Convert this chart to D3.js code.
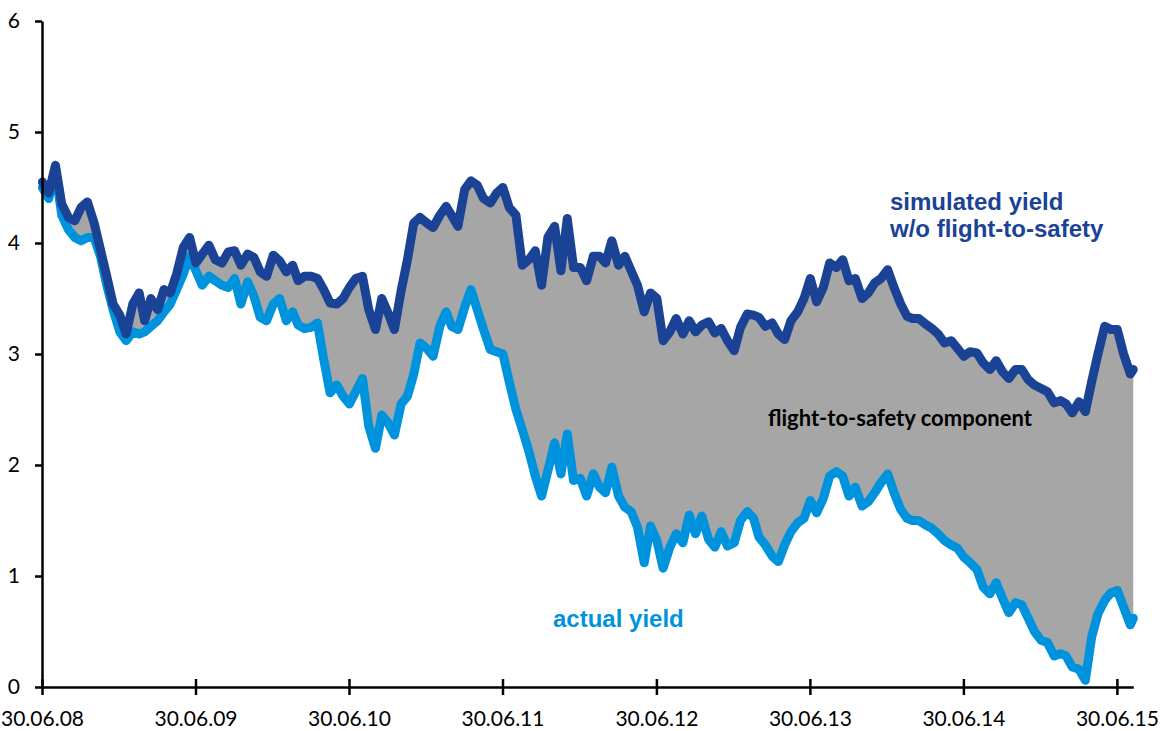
<!DOCTYPE html>
<html>
<head>
<meta charset="utf-8">
<script src="https://cdn.jsdelivr.net/npm/d3@7"></script>
<style>
  body { margin: 0; background: #fff; }
  svg text { font-family: Lato, "Open Sans", sans-serif; }
</style>
</head>
<body>
<script>
// half-monthly observations, dd.mm.yy
const dates = [
  "01.07.08","16.07.08","01.08.08","16.08.08","01.09.08","16.09.08","01.10.08","16.10.08","01.11.08","16.11.08","01.12.08","16.12.08",
  "01.01.09","16.01.09","01.02.09","16.02.09","01.03.09","16.03.09","01.04.09","16.04.09","01.05.09","16.05.09","01.06.09","16.06.09",
  "01.07.09","16.07.09","01.08.09","16.08.09","01.09.09","16.09.09","01.10.09","16.10.09","01.11.09","16.11.09","01.12.09","16.12.09",
  "01.01.10","16.01.10","01.02.10","16.02.10","01.03.10","16.03.10","01.04.10","16.04.10","01.05.10","16.05.10","01.06.10","16.06.10",
  "01.07.10","16.07.10","01.08.10","16.08.10","01.09.10","16.09.10","01.10.10","16.10.10","01.11.10","16.11.10","01.12.10","16.12.10",
  "01.01.11","16.01.11","01.02.11","16.02.11","01.03.11","16.03.11","01.04.11","16.04.11","01.05.11","16.05.11","01.06.11","16.06.11",
  "01.07.11","16.07.11","01.08.11","16.08.11","01.09.11","16.09.11","01.10.11","16.10.11","01.11.11","16.11.11","01.12.11","16.12.11",
  "01.01.12","16.01.12","01.02.12","16.02.12","01.03.12","16.03.12","01.04.12","16.04.12","01.05.12","16.05.12","01.06.12","16.06.12",
  "01.07.12","16.07.12","01.08.12","16.08.12","01.09.12","16.09.12","01.10.12","16.10.12","01.11.12","16.11.12","01.12.12","16.12.12",
  "01.01.13","16.01.13","01.02.13","16.02.13","01.03.13","16.03.13","01.04.13","16.04.13","01.05.13","16.05.13","01.06.13","16.06.13",
  "01.07.13","16.07.13","01.08.13","16.08.13","01.09.13","16.09.13","01.10.13","16.10.13","01.11.13","16.11.13","01.12.13","16.12.13",
  "01.01.14","16.01.14","01.02.14","16.02.14","01.03.14","16.03.14","01.04.14","16.04.14","01.05.14","16.05.14","01.06.14","16.06.14",
  "01.07.14","16.07.14","01.08.14","16.08.14","01.09.14","16.09.14","01.10.14","16.10.14","01.11.14","16.11.14","01.12.14","16.12.14",
  "01.01.15","16.01.15","01.02.15","16.02.15","01.03.15","16.03.15","01.04.15","16.04.15","01.05.15","16.05.15","01.06.15","16.06.15",
  "01.07.15","16.07.15","01.08.15","08.08.15"
];

// simulated yield without flight-to-safety (%)
const simulated = [
  4.55,4.45,4.70,4.35,4.23,4.20,4.32,4.37,4.18,3.94,3.70,3.45,3.35,3.18,3.45,3.55,3.30,3.50,3.40,3.58,3.55,3.72,3.96,4.05,
  3.82,3.90,3.98,3.85,3.82,3.92,3.93,3.80,3.90,3.87,3.74,3.70,3.89,3.84,3.74,3.80,3.66,3.70,3.70,3.68,3.58,3.46,3.45,3.50,
  3.60,3.68,3.70,3.40,3.22,3.50,3.37,3.22,3.57,3.85,4.18,4.23,4.18,4.14,4.25,4.33,4.25,4.15,4.48,4.56,4.52,4.40,4.36,4.45,
  4.50,4.32,4.25,3.80,3.85,3.93,3.62,4.05,4.15,3.75,4.22,3.78,3.78,3.66,3.88,3.88,3.82,4.02,3.80,3.88,3.75,3.62,3.38,3.55,
  3.50,3.12,3.20,3.32,3.18,3.30,3.20,3.26,3.29,3.19,3.23,3.12,3.03,3.24,3.36,3.35,3.33,3.25,3.28,3.18,3.13,3.30,3.38,3.50,
  3.68,3.47,3.60,3.82,3.78,3.85,3.66,3.68,3.50,3.55,3.64,3.68,3.76,3.60,3.45,3.34,3.32,3.32,3.27,3.23,3.18,3.10,3.12,3.05,
  2.98,3.02,3.01,2.92,2.86,2.94,2.84,2.78,2.86,2.86,2.77,2.72,2.69,2.66,2.56,2.58,2.55,2.47,2.57,2.48,2.75,3.00,3.25,3.22,
  3.22,3.00,2.82,2.86
];

// actual yield (%)
const actual = [
  4.50,4.40,4.65,4.25,4.12,4.05,4.02,4.05,4.05,3.88,3.62,3.40,3.20,3.12,3.20,3.18,3.20,3.25,3.30,3.38,3.45,3.58,3.72,3.88,
  3.75,3.62,3.70,3.66,3.62,3.60,3.68,3.45,3.65,3.52,3.33,3.30,3.45,3.50,3.30,3.38,3.26,3.23,3.24,3.28,2.95,2.65,2.72,2.62,
  2.55,2.66,2.78,2.35,2.15,2.45,2.38,2.27,2.55,2.62,2.82,3.10,3.05,2.98,3.25,3.38,3.25,3.22,3.42,3.58,3.40,3.22,3.04,3.02,
  3.00,2.75,2.50,2.32,2.12,1.90,1.72,1.95,2.20,1.92,2.28,1.86,1.88,1.72,1.92,1.80,1.75,1.98,1.72,1.62,1.58,1.44,1.12,1.45,
  1.32,1.07,1.26,1.38,1.30,1.55,1.38,1.54,1.33,1.26,1.40,1.27,1.30,1.50,1.58,1.52,1.35,1.28,1.18,1.13,1.28,1.40,1.48,1.52,
  1.68,1.57,1.70,1.90,1.94,1.90,1.72,1.80,1.63,1.67,1.75,1.84,1.92,1.75,1.60,1.52,1.50,1.50,1.46,1.43,1.38,1.32,1.28,1.25,
  1.17,1.12,1.06,0.90,0.84,0.94,0.80,0.67,0.76,0.74,0.62,0.50,0.42,0.40,0.28,0.30,0.28,0.18,0.16,0.06,0.45,0.66,0.78,0.85,
  0.87,0.72,0.56,0.62
];

const xTickLabels = ["30.06.08","30.06.09","30.06.10","30.06.11","30.06.12","30.06.13","30.06.14","30.06.15"];
const yTicks = [0, 1, 2, 3, 4, 5, 6];

const parse = d3.timeParse('%d.%m.%y');
const fmt = d3.timeFormat('%d.%m.%y');

const data = dates.map((d, i) => ({ date: parse(d), sim: simulated[i], act: actual[i] }));

const width = 1168;
const height = 731;
const margin = { top: 21, left: 42, bottom: 44 };
const xStart = parse('30.06.08');
const xEnd = parse('08.08.15');
const pxPerDay = 153.6 / 365.25;

const x = d3.scaleTime()
  .domain([xStart, xEnd])
  .range([margin.left, margin.left + (xEnd - xStart) / 864e5 * pxPerDay]);
const y = d3.scaleLinear().domain([0, 6]).range([height - margin.bottom, margin.top]);

const svg = d3.select('body').append('svg')
  .attr('width', width)
  .attr('height', height);

// grey band between the two yields
svg.append('path')
  .datum(data)
  .attr('fill', '#a6a6a6')
  .attr('d', d3.area()
    .x(d => x(d.date))
    .y0(d => y(d.act))
    .y1(d => y(d.sim)));

const lineOf = key => d3.line().x(d => x(d.date)).y(d => y(d[key]));

svg.append('path')
  .datum(data)
  .attr('fill', 'none')
  .attr('stroke', '#0093dd')
  .attr('stroke-width', 9)
  .attr('stroke-linejoin', 'round')
  .attr('stroke-linecap', 'round')
  .attr('d', lineOf('act'));

svg.append('path')
  .datum(data)
  .attr('fill', 'none')
  .attr('stroke', '#1a4396')
  .attr('stroke-width', 9)
  .attr('stroke-linejoin', 'round')
  .attr('stroke-linecap', 'round')
  .attr('d', lineOf('sim'));

// axes
const xAxis = svg.append('g')
  .attr('transform', `translate(0, ${y(0)})`)
  .call(d3.axisBottom(x)
    .tickValues(xTickLabels.map(parse))
    .tickFormat(fmt)
    .tickSize(8)
    .tickSizeOuter(0)
    .tickPadding(16));
xAxis.selectAll('.tick line').attr('y1', -8);

const yAxis = svg.append('g')
  .attr('transform', `translate(${margin.left}, 0)`)
  .call(d3.axisLeft(y)
    .tickValues(yTicks)
    .tickFormat(d3.format('d'))
    .tickSize(7)
    .tickSizeOuter(0)
    .tickPadding(15));

[xAxis, yAxis].forEach(g => {
  g.select('.domain').attr('stroke', '#000').attr('stroke-width', 2.5);
  g.selectAll('.tick line').attr('stroke', '#000').attr('stroke-width', 2.5);
  g.selectAll('.tick text')
    .attr('fill', '#000')
    .style('font-family', 'Lato, sans-serif')
    .style('font-size', '21px');
});

// labels
const bold = 'bold 24px "Liberation Sans", Arial, sans-serif';
const sim = svg.append('text')
  .attr('x', 890)
  .attr('y', 210)
  .attr('fill', '#1a4396')
  .style('font', bold);
sim.append('tspan').attr('x', 890).text('simulated yield');
sim.append('tspan').attr('x', 890).attr('dy', 27).text('w/o flight-to-safety');

svg.append('text')
  .attr('x', 553)
  .attr('y', 627)
  .attr('fill', '#0093dd')
  .style('font', bold)
  .text('actual yield');

svg.append('text')
  .attr('x', 768)
  .attr('y', 426)
  .attr('fill', '#000')
  .style('font', 'bold 22px Lato, sans-serif')
  .text('flight-to-safety component');
</script>
</body>
</html>
